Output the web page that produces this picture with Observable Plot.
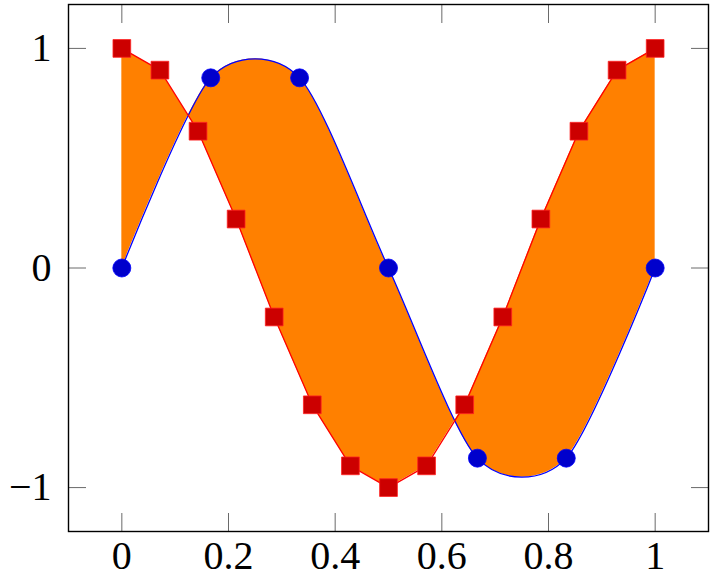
<!DOCTYPE html>
<html>
<head>
<meta charset="utf-8">
<script src="https://cdn.jsdelivr.net/npm/d3@7"></script>
<script src="https://cdn.jsdelivr.net/npm/@observablehq/plot@0.6"></script>
<style>
  html, body { margin: 0; padding: 0; background: #fff; }
  #chart svg { display: block; }
</style>
</head>
<body>
<div id="chart"></div>
<script>
// Blue series (smooth curve, circle markers)
const blueX = [0, 0.1667, 0.3333, 0.5, 0.6667, 0.8333, 1];
const blueY = [0, 0.866, 0.866, 0, -0.866, -0.866, 0];
// Red series (straight segments, square markers)
const redX = [0, 0.0714, 0.1429, 0.2143, 0.2857, 0.3571, 0.4286, 0.5, 0.5714, 0.6429, 0.7143, 0.7857, 0.8571, 0.9286, 1];
const redY = [1, 0.901, 0.623, 0.223, -0.223, -0.623, -0.901, -1, -0.901, -0.623, -0.223, 0.223, 0.623, 0.901, 1];
// Ticks
const xTicks = [0, 0.2, 0.4, 0.6, 0.8, 1];
const xTickLabels = ["0", "0.2", "0.4", "0.6", "0.8", "1"];
const yTicks = [-1, 0, 1];
const yTickLabels = ["\u22121", "0", "1"];

const blue = blueX.map((x, i) => ({x, y: blueY[i]}));
const red = redX.map((x, i) => ({x, y: redY[i]}));
const tension = 0.2;

const fillBetween = (...args) => {
  const scales = args.find(a => a && typeof a.x === "function" && typeof a.y === "function");
  const sx = scales.x, sy = scales.y;
  const redPath = d3.line().x(d => sx(d.x)).y(d => sy(d.y)).curve(d3.curveLinear)(red);
  const bluePath = d3.line().x(d => sx(d.x)).y(d => sy(d.y)).curve(d3.curveCardinal.tension(tension))(blue.slice().reverse());
  const path = document.createElementNS("http://www.w3.org/2000/svg", "path");
  path.setAttribute("d", redPath + "L" + bluePath.slice(1) + "Z");
  path.setAttribute("fill", "#ff8000");
  path.setAttribute("stroke", "none");
  const g = document.createElementNS("http://www.w3.org/2000/svg", "g");
  g.appendChild(path);
  return g;
};

const chart = Plot.plot({
  width: 714,
  height: 578,
  marginLeft: 68,
  marginRight: 6,
  marginTop: 4,
  marginBottom: 47,
  style: {fontFamily: "'Liberation Serif', serif", fontSize: "40px", color: "black", background: "white"},
  x: {domain: [-0.1, 1.1]},
  y: {domain: [-1.2, 1.2]},
  marks: [
    fillBetween,
    Plot.line(blue, {x: "x", y: "y", stroke: "#0000ff", strokeWidth: 1.3, curve: "cardinal", tension: tension}),
    Plot.line(red, {x: "x", y: "y", stroke: "#ff0000", strokeWidth: 1.3}),
    Plot.dot(blue, {x: "x", y: "y", r: 9, fill: "#0000cc", stroke: "#0000ff", strokeWidth: 0.8}),
    Plot.dot(red, {x: "x", y: "y", r: 10, symbol: "square", fill: "#cc0000", stroke: "#ff2020", strokeWidth: 0.8}),
    Plot.axisX({anchor: "bottom", ticks: xTicks, tickFormat: (d, i) => xTickLabels[i], tickSize: 0, tickPadding: 9, label: null}),
    Plot.axisX({anchor: "bottom", ticks: xTicks, tickSize: -18, text: null, label: null, stroke: "#444", strokeWidth: 0.8}),
    Plot.axisX({anchor: "top", ticks: xTicks, tickSize: -18, text: null, label: null, stroke: "#444", strokeWidth: 0.8}),
    Plot.axisY({anchor: "left", ticks: yTicks, tickFormat: (d, i) => yTickLabels[i], tickSize: 0, tickPadding: 17, label: null}),
    Plot.axisY({anchor: "left", ticks: yTicks, tickSize: -18, text: null, label: null, stroke: "#444", strokeWidth: 0.8}),
    Plot.axisY({anchor: "right", ticks: yTicks, tickSize: -18, text: null, label: null, stroke: "#444", strokeWidth: 0.8}),
    Plot.frame({stroke: "black", strokeWidth: 1.4})
  ]
});
document.getElementById("chart").appendChild(chart);
</script>
</body>
</html>
